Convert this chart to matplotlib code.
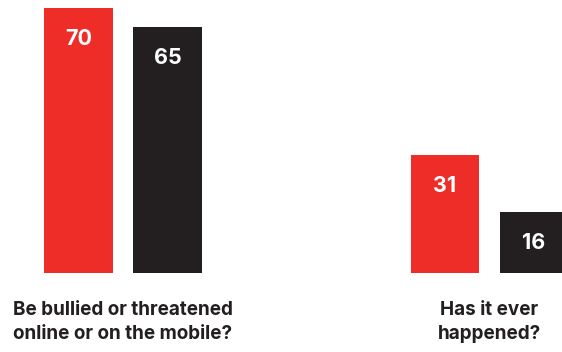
import numpy as np
import matplotlib.pyplot as plt

categories = ["Be bullied or threatened\nonline or on the mobile?", "Has it ever\nhappened?"]
red_vals = [70, 31]
black_vals = [65, 16]

RED = '#EE2D29'
BLACK = '#231F20'

fig = plt.figure(figsize=(5.62, 3.52), dpi=100)
ax = fig.add_axes([0, 0, 1, 1])

x = np.arange(len(categories))
w = 0.188
off = 0.1214

b1 = ax.bar(x - off, red_vals, w, color=RED)
b2 = ax.bar(x + off, black_vals, w, color=BLACK)

for bars, vals in ((b1, red_vals), (b2, black_vals)):
    for b, v in zip(bars, vals):
        ax.text(b.get_x() + b.get_width() / 2, v - 8.2, str(v), ha='center', va='center',
                color='white', fontsize=15.5, fontweight='bold', family='Inter')

for xi, cat in zip(x, categories):
    ax.text(xi, -7.6, cat, ha='center', va='top', fontsize=13.6, fontweight='bold',
            color=BLACK, family='Inter', linespacing=1.4)

ax.set_xlim(-0.3356, 1.1978)
ax.set_ylim(-21.0, 72.14)
ax.axis('off')

fig.savefig('out.png', dpi=100)
